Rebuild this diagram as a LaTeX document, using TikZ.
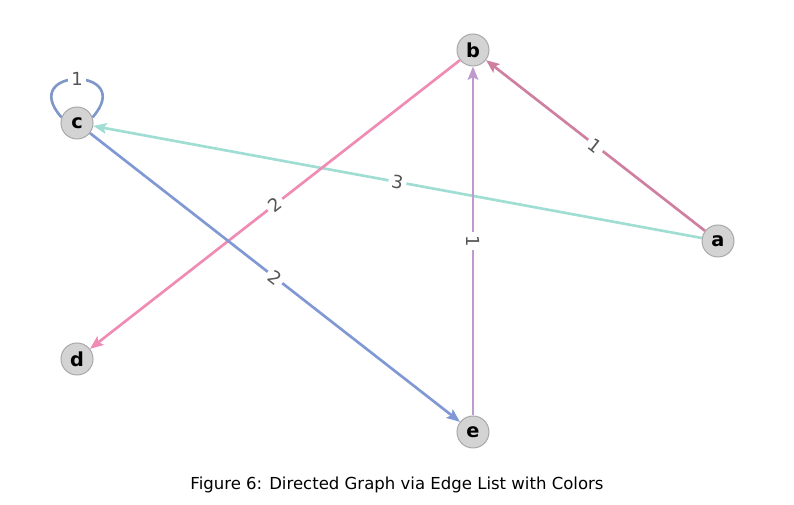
\documentclass[tikz,border=0pt]{standalone}
\usepackage{fontspec}
\setmainfont{DejaVu Sans}
\usetikzlibrary{arrows.meta}

\definecolor{vfill}{HTML}{D3D3D3}
\definecolor{vedge}{HTML}{A8A8A8}
\definecolor{lgray}{HTML}{555555}
\definecolor{abcol}{HTML}{CF7FA0}
\definecolor{accol}{HTML}{A0DED4}
\definecolor{bdcol}{HTML}{F08CB4}
\definecolor{cecol}{HTML}{8098D4}
\definecolor{ebcol}{HTML}{C09ACC}
\definecolor{cccol}{HTML}{8098C8}

\tikzset{
  vertex/.style={circle,draw=vedge,fill=vfill,line width=0.75pt,minimum size=24pt,inner sep=0pt,font=\fontsize{14.5}{17}\selectfont\bfseries},
  edgeline/.style={line width=2pt,-{Stealth[length=10pt,width=8pt,inset=2pt]}},
  elabel/.style={fill=white,inner sep=2.5pt,text=lgray,font=\fontsize{13.5}{16}\selectfont},
}

\begin{document}
\begin{tikzpicture}[x=0.75pt,y=-0.75pt]
  \useasboundingbox (0,0) rectangle (794,505);
  \node[vertex] (a) at (718,241) {a};
  \node[vertex] (b) at (473,50) {b};
  \node[vertex] (c) at (77,123) {c};
  \node[vertex] (d) at (77,359) {d};
  \node[vertex] (e) at (473,432) {e};

  \draw[edgeline,abcol] (a) -- node[elabel,sloped]{1} (b);
  \draw[edgeline,accol] (a) -- node[elabel,sloped]{3} (c);
  \draw[edgeline,bdcol] (b) -- node[elabel,sloped]{2} (d);
  \draw[edgeline,cecol] (c) -- node[elabel,sloped]{2} (e);
  \draw[edgeline,ebcol] (e) -- node[elabel,rotate=-90]{1} (b);
  \draw[line width=2pt,cccol] (c.160) .. controls +(-45,-51) and +(45,-51) .. node[elabel]{1} (c.20);

  \node[font=\fontsize{12.4}{15}\selectfont] (caption) at (397,485) {Figure 6: Directed Graph via Edge List with Colors};
\end{tikzpicture}
\end{document}
